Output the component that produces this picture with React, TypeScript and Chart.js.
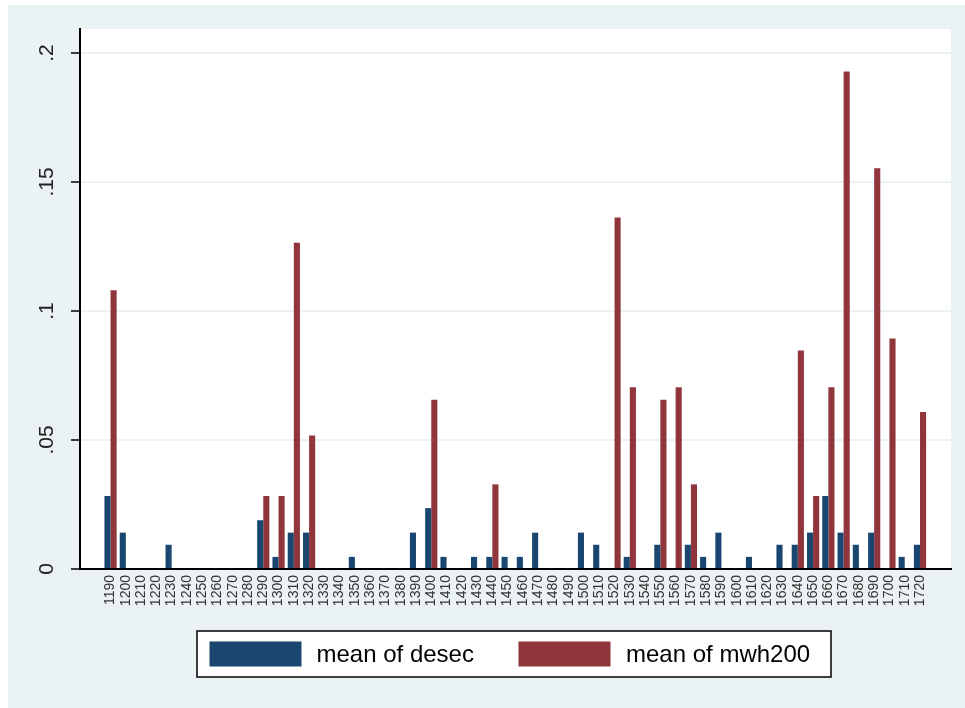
import React, { useEffect, useRef } from "react";
import { Chart, registerables } from "chart.js";

Chart.register(...registerables);

const categories: number[] = [
  1190, 1200, 1210, 1220, 1230, 1240, 1250, 1260, 1270, 1280,
  1290, 1300, 1310, 1320, 1330, 1340, 1350, 1360, 1370, 1380,
  1390, 1400, 1410, 1420, 1430, 1440, 1450, 1460, 1470, 1480,
  1490, 1500, 1510, 1520, 1530, 1540, 1550, 1560, 1570, 1580,
  1590, 1600, 1610, 1620, 1630, 1640, 1650, 1660, 1670, 1680,
  1690, 1700, 1710, 1720,
];

const desec: number[] = [
  0.0283, 0.0141, 0, 0, 0.0094, 0, 0, 0, 0, 0,
  0.0189, 0.0047, 0.0141, 0.0141, 0, 0, 0.0047, 0, 0, 0,
  0.0141, 0.0236, 0.0047, 0, 0.0047, 0.0047, 0.0047, 0.0047, 0.0141, 0,
  0, 0.0141, 0.0094, 0, 0.0047, 0, 0.0094, 0, 0.0094, 0.0047,
  0.0141, 0, 0.0047, 0, 0.0094, 0.0094, 0.0141, 0.0283, 0.0141, 0.0094,
  0.0141, 0, 0.0047, 0.0094,
];

const mwh200: number[] = [
  0.108, 0, 0, 0, 0, 0, 0, 0, 0, 0,
  0.0283, 0.0283, 0.1265, 0.0517, 0, 0, 0, 0, 0, 0,
  0, 0.0656, 0, 0, 0, 0.0328, 0, 0, 0, 0,
  0, 0, 0, 0.1362, 0.0704, 0, 0.0656, 0.0704, 0.0328, 0,
  0, 0, 0, 0, 0, 0.0847, 0.0283, 0.0704, 0.1928, 0,
  0.1553, 0.0893, 0, 0.0609,
];

const seriesLabels: string[] = ["mean of desec", "mean of mwh200"];
const yTicks: number[] = [0, 0.05, 0.1, 0.15, 0.2];
const yTickLabels: string[] = ["0", ".05", ".1", ".15", ".2"];

const NAVY = "#1a476f";
const MAROON = "#90353b";
const BG = "#eaf2f3";
const FONT = "'Liberation Sans', Arial, Helvetica, sans-serif";

const backgroundPlugin = {
  id: "stataBackground",
  beforeDraw(chart: any) {
    const { ctx, width, height, chartArea } = chart;
    ctx.save();
    ctx.fillStyle = BG;
    ctx.fillRect(0, 0, width, height);
    ctx.fillStyle = "#ffffff";
    ctx.fillRect(
      chartArea.left,
      chartArea.top,
      chartArea.right - chartArea.left,
      chartArea.bottom - chartArea.top
    );
    ctx.restore();
  },
};

const legendPlugin = {
  id: "stataLegend",
  afterDraw(chart: any) {
    const { ctx } = chart;
    const ds = chart.data.datasets;
    const boxX = 189;
    const boxY = 626;
    const boxW = 634;
    const boxH = 46;
    ctx.save();
    ctx.fillStyle = "#ffffff";
    ctx.fillRect(boxX, boxY, boxW, boxH);
    ctx.strokeStyle = "#000000";
    ctx.lineWidth = 1.5;
    ctx.strokeRect(boxX, boxY, boxW, boxH);
    const swatchX = [201.5, 510.5];
    const textX = [308.5, 618];
    ctx.font = `24px ${FONT}`;
    ctx.textBaseline = "middle";
    ctx.textAlign = "left";
    ds.forEach((d: any, i: number) => {
      ctx.fillStyle = d.backgroundColor;
      ctx.fillRect(swatchX[i], 636.5, 92, 25);
      ctx.fillStyle = "#000000";
      ctx.fillText(d.label, textX[i], 650);
    });
    ctx.restore();
  },
};

export default function App() {
  const canvasRef = useRef<HTMLCanvasElement | null>(null);

  useEffect(() => {
    if (!canvasRef.current) return;
    const chart = new Chart(canvasRef.current, {
      type: "bar",
      data: {
        datasets: [
          {
            label: seriesLabels[0],
            data: categories.map((c, i) => ({ x: c, y: desec[i] })),
            backgroundColor: NAVY,
            borderWidth: 0,
            categoryPercentage: 0.8,
            barPercentage: 1.0,
          },
          {
            label: seriesLabels[1],
            data: categories.map((c, i) => ({ x: c, y: mwh200[i] })),
            backgroundColor: MAROON,
            borderWidth: 0,
            categoryPercentage: 0.8,
            barPercentage: 1.0,
          },
        ],
      },
      options: {
        animation: false,
        responsive: false,
        maintainAspectRatio: false,
        layout: { padding: { top: 24, left: 0, right: 14, bottom: 89 } },
        plugins: {
          legend: { display: false },
          tooltip: { enabled: false },
          title: { display: false },
        },
        scales: {
          x: {
            type: "linear",
            offset: false,
            min: 1170,
            max: 1740.3,
            afterBuildTicks: (scale: any) => {
              scale.ticks = categories.map((v) => ({ value: v }));
            },
            afterFit: (scale: any) => {
              scale.height = 50;
            },
            grid: { display: false, drawTicks: false, offset: false },
            border: { display: true, color: "#000000", width: 2 },
            ticks: {
              autoSkip: false,
              minRotation: 90,
              maxRotation: 90,
              padding: 6,
              color: "#333333",
              font: { family: FONT, size: 14 },
              callback: (v: any) => String(v),
            },
          },
          y: {
            type: "linear",
            min: 0,
            max: 0.2093,
            afterBuildTicks: (scale: any) => {
              scale.ticks = yTicks.map((v) => ({ value: v }));
            },
            afterFit: (scale: any) => {
              scale.width = 72;
            },
            grid: {
              color: (c: any) => (c.tick && c.tick.value === 0 ? "rgba(0,0,0,0)" : BG),
              lineWidth: 2,
              drawTicks: true,
              tickLength: 9,
              tickColor: "#000000",
              tickWidth: 1.5,
            },
            border: { display: true, color: "#000000", width: 2 },
            ticks: {
              minRotation: 90,
              maxRotation: 90,
              crossAlign: "center",
              padding: 9,
              color: "#222222",
              font: { family: FONT, size: 21 },
              callback: (_v: any, i: number) => yTickLabels[i],
            },
          },
        },
      },
      plugins: [backgroundPlugin, legendPlugin],
    } as any);
    return () => chart.destroy();
  }, []);

  return (
    <div
      style={{
        position: "absolute",
        left: 0,
        top: 0,
        width: 965,
        height: 708,
        background: "#ffffff",
        overflow: "hidden",
      }}
    >
      <canvas
        ref={canvasRef}
        width={957}
        height={703}
        style={{ position: "absolute", left: 8, top: 5, width: 957, height: 703 }}
      />
    </div>
  );
}
